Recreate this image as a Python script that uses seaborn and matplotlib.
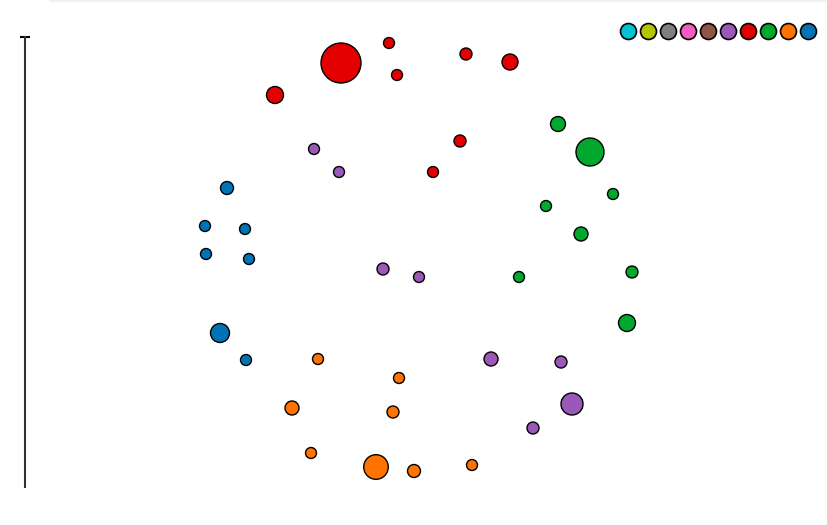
import pandas as pd
import matplotlib
matplotlib.use("Agg")
import matplotlib.pyplot as plt
from matplotlib.lines import Line2D
import seaborn as sns

# groups (legend order, left to right) and their colours
groups = ["g1", "g2", "g3", "g4", "g5", "g6", "g7", "g8", "g9", "g10"]
colors = ["#00c4d4", "#b5c400", "#808080", "#f55cbf", "#8f5549",
          "#9c58b8", "#e50000", "#00a82d", "#ff7300", "#0073b7"]

# points
red_x = [316, 364, 372, 441, 485, 250, 435, 408]
red_y = [424, 444, 412, 433, 425, 392, 346, 315]
red_v = [400, 30, 30, 36, 64, 72, 36, 30]

purple_x = [289, 314, 358, 394, 466, 536, 547, 508]
purple_y = [338, 315, 218, 210, 128, 125, 83, 59]
purple_v = [30, 30, 36, 30, 49, 36, 121, 36]

orange_x = [293, 374, 267, 368, 286, 351, 389, 447]
orange_y = [128, 109, 79, 75, 34, 20, 16, 22]
orange_v = [30, 30, 49, 36, 30, 151, 42, 30]

green_x = [533, 565, 588, 521, 556, 494, 607, 602]
green_y = [363, 335, 293, 281, 253, 210, 215, 164]
green_v = [56, 196, 30, 30, 49, 30, 36, 72]

blue_x = [202, 180, 220, 181, 224, 195, 221]
blue_y = [299, 261, 258, 233, 228, 154, 127]
blue_v = [42, 30, 30, 30, 30, 90, 30]

frames = []
for g, xs, ys, vs in [("g7", red_x, red_y, red_v),
                      ("g6", purple_x, purple_y, purple_v),
                      ("g9", orange_x, orange_y, orange_v),
                      ("g8", green_x, green_y, green_v),
                      ("g10", blue_x, blue_y, blue_v)]:
    frames.append(pd.DataFrame({"x": xs, "y": ys, "value": vs, "group": g}))
df = pd.concat(frames, ignore_index=True)

palette = dict(zip(groups, colors))

fig = plt.figure(figsize=(8.28, 5.25), dpi=100)
ax = fig.add_axes([25 / 828, 38 / 525, 803 / 828, 450 / 525])

sns.scatterplot(data=df, x="x", y="y", hue="group", size="value",
                palette=palette, hue_order=groups,
                sizes=(30 * 2.0736, 400 * 2.0736), size_norm=(30, 400),
                edgecolor="black", linewidth=1, legend=False,
                ax=ax, clip_on=False, zorder=3)

ax.set_xlim(0, 803)
ax.set_ylim(0, 450)
for side in ["top", "right", "bottom"]:
    ax.spines[side].set_visible(False)
ax.spines["left"].set_color("#333333")
ax.spines["left"].set_linewidth(1.5)
ax.set_xticks([])
ax.set_yticks([450])
ax.set_yticklabels([])
ax.tick_params(axis="y", direction="inout", length=7.2, width=1.5, color="black")
ax.set_xlabel("")
ax.set_ylabel("")

# colour legend without text
handles = [Line2D([], [], marker="o", linestyle="", markersize=11.5,
                  markerfacecolor=c, markeredgecolor="black", markeredgewidth=1.2)
           for c in colors]
fig.legend(handles, [""] * len(handles), ncol=len(handles), loc="center right",
           bbox_to_anchor=(816 / 828, 1 - 32 / 525), frameon=False,
           fontsize=10, handlelength=1.2, handletextpad=0, columnspacing=0.24,
           borderpad=0, borderaxespad=0)

# faint page border at the top
fig.add_artist(Line2D([50 / 828, 1], [1 - 1 / 525, 1 - 1 / 525],
                      transform=fig.transFigure, color="#f0f0f0", linewidth=1.5))

fig.savefig("out.png", dpi=100)
